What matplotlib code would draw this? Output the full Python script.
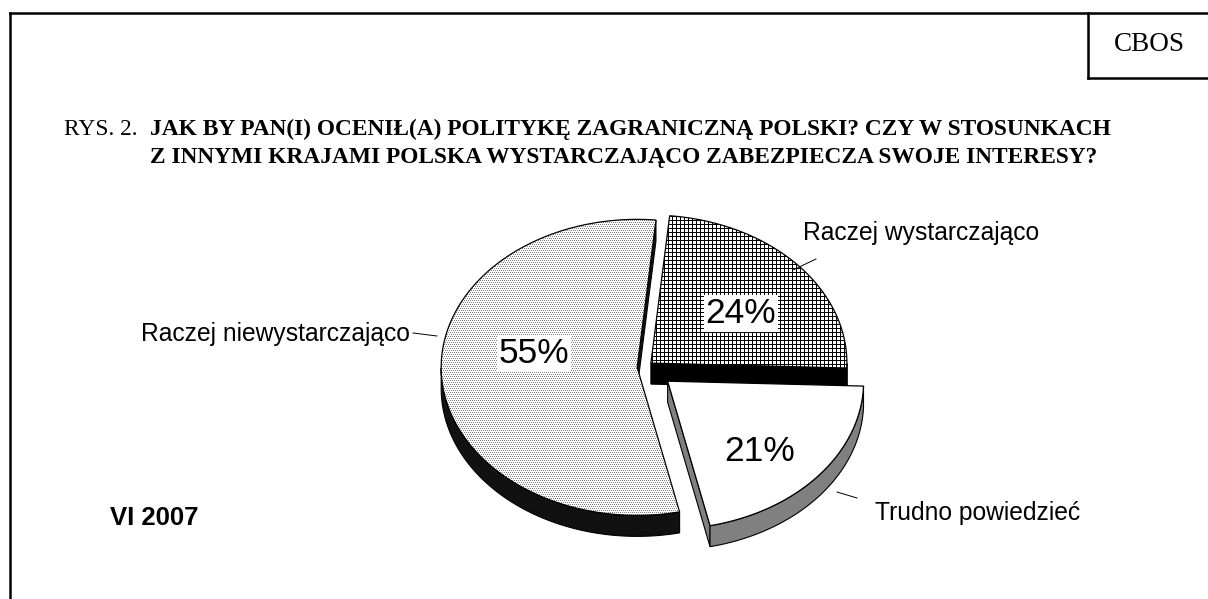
import numpy as np
import matplotlib
matplotlib.use("Agg")
import matplotlib.pyplot as plt
from matplotlib.patches import Polygon
from matplotlib.lines import Line2D

# ---------------- data ----------------
categories = ["Raczej wystarczająco", "Trudno powiedzieć", "Raczej niewystarczająco"]
values = [24, 21, 55]
pct_labels = ["24%", "21%", "55%"]
title_prefix = "RYS. 2."
title_lines = ["JAK BY PAN(I) OCENIŁ(A) POLITYKĘ ZAGRANICZNĄ POLSKI? CZY W STOSUNKACH",
               "Z INNYMI KRAJAMI POLSKA WYSTARCZAJĄCO ZABEZPIECZA SWOJE INTERESY?"]
date_label = "VI 2007"
brand = "CBOS"

# ---------------- layout / style ----------------
W, H = 1208, 599
fig = plt.figure(figsize=(W / 100, H / 100), dpi=100)
ax = fig.add_axes([0, 0, 1, 1])
ax.set_xlim(0, W)
ax.set_ylim(H, 0)
ax.axis("off")

SANS = ["Liberation Sans", "DejaVu Sans"]
SERIF = ["Liberation Serif", "DejaVu Serif"]

CX, CY = 645, 367
A, B = 196, 148
DEPTH = 21
START = 84.5
explode = [0.04, 0.15, 0.04]
top_styles = ["grid", "white", "dots"]
side_colors = ["#000000", "#808080", "#111111"]
draw_order = [2, 0, 1]

# label layout (pixel positions)
pct_pos = [(741, 323), (760, 461), (534, 363)]
cat_pos = [(803, 240, "left"), (875, 520, "left"), (410, 341, "right")]
leaders = [((793, 270), (816, 259)), ((837, 492), (857, 498)), ((413, 333), (437, 336))]

# patterns
yy, xx = np.mgrid[0:H, 0:W]
grid_img = np.ones((H, W, 3))
grid_mask = (yy % 4 == 0) | (xx % 4 == 0)
grid_img[grid_mask] = 0.0
dots_img = np.ones((H, W, 3))
dots_mask = (yy % 2 == 0) & ((xx + (yy // 2) % 2) % 2 == 0)
dots_img[dots_mask] = 0.5

# ---------------- pie geometry from values ----------------
total = float(sum(values))
spans = []
t = START
for v in values:
    s = 360.0 * v / total
    spans.append((t, t - s))
    t -= s

z = 2
for i in draw_order:
    t1, t2 = spans[i]
    mid = np.deg2rad((t1 + t2) / 2)
    px = CX + explode[i] * A * np.cos(mid)
    py = CY - explode[i] * B * np.sin(mid)

    def pt(tt, dz=0.0):
        r = np.deg2rad(tt)
        return (px + A * np.cos(r), py - B * np.sin(r) + dz)

    sc = side_colors[i]
    # radial side faces
    if np.cos(np.deg2rad(t2)) > 0:
        p, q = pt(t2), pt(t2, DEPTH)
        ax.add_patch(Polygon([(px, py), p, q, (px, py + DEPTH)], closed=True,
                             facecolor=sc, edgecolor="black", lw=0.8, zorder=z))
        z += 1
    if np.cos(np.deg2rad(t1)) < 0:
        p, q = pt(t1), pt(t1, DEPTH)
        ax.add_patch(Polygon([(px, py), p, q, (px, py + DEPTH)], closed=True,
                             facecolor=sc, edgecolor="black", lw=0.8, zorder=z))
        z += 1
    # outer arc side (front half only)
    ts = np.linspace(t1, t2, 400)
    front = np.sin(np.deg2rad(ts)) < 0
    if front.sum() > 1:
        tf = ts[front]
        upper = [pt(tt) for tt in tf]
        lower = [pt(tt, DEPTH) for tt in tf[::-1]]
        ax.add_patch(Polygon(upper + lower, closed=True, facecolor=sc,
                             edgecolor="black", lw=0.8, zorder=z))
        z += 1
    # top face
    top = [(px, py)] + [pt(tt) for tt in ts]
    style = top_styles[i]
    if style == "white":
        ax.add_patch(Polygon(top, closed=True, facecolor="white",
                             edgecolor="black", lw=0.9, zorder=z))
        z += 1
    else:
        clip = Polygon(top, closed=True, facecolor="none", edgecolor="none",
                       transform=ax.transData)
        img = grid_img if style == "grid" else dots_img
        im = ax.imshow(img, extent=(0, W, H, 0), interpolation="nearest",
                       zorder=z, aspect="auto")
        im.set_clip_path(clip)
        z += 1
        ax.add_patch(Polygon(top, closed=True, facecolor="none",
                             edgecolor="black", lw=0.9, zorder=z))
        z += 1

ax.set_xlim(0, W)
ax.set_ylim(H, 0)

# percentage labels
for i, (x, y) in enumerate(pct_pos):
    ax.text(x, y, pct_labels[i], ha="center", va="baseline", fontsize=25.5,
            family=SANS, zorder=50,
            bbox=dict(boxstyle="square,pad=0.05", facecolor="white", edgecolor="none"))

# category labels and leader lines
for i, (x, y, ha) in enumerate(cat_pos):
    ax.text(x, y, categories[i], ha=ha, va="baseline", fontsize=17.7,
            family=SANS, zorder=50)
    (x0, y0), (x1, y1) = leaders[i]
    ax.add_line(Line2D([x0, x1], [y0, y1], color="black", lw=0.7, zorder=50))

ax.text(110, 525, date_label, ha="left", va="baseline", fontsize=18.5,
        fontweight="bold", family=SANS, zorder=50)

# title
ax.text(64, 135, title_prefix, ha="left", va="baseline", fontsize=16.8,
        family=SERIF, zorder=50)
for k, line in enumerate(title_lines):
    ax.text(150, 135 + 28 * k, line, ha="left", va="baseline", fontsize=16.8,
            fontweight="bold", family=SERIF, zorder=50)

# frame and CBOS box
ax.add_line(Line2D([10, W], [13, 13], color="black", lw=1.8, zorder=60))
ax.add_line(Line2D([10, 10], [13, H], color="black", lw=1.8, zorder=60))
ax.add_line(Line2D([1088, 1088], [13, 78], color="black", lw=1.8, zorder=60))
ax.add_line(Line2D([1088, W], [78, 78], color="black", lw=1.8, zorder=60))
ax.text(1149, 51, brand, ha="center", va="baseline", fontsize=19.5,
        family=SERIF, zorder=60)

fig.savefig("out.png", dpi=100)
